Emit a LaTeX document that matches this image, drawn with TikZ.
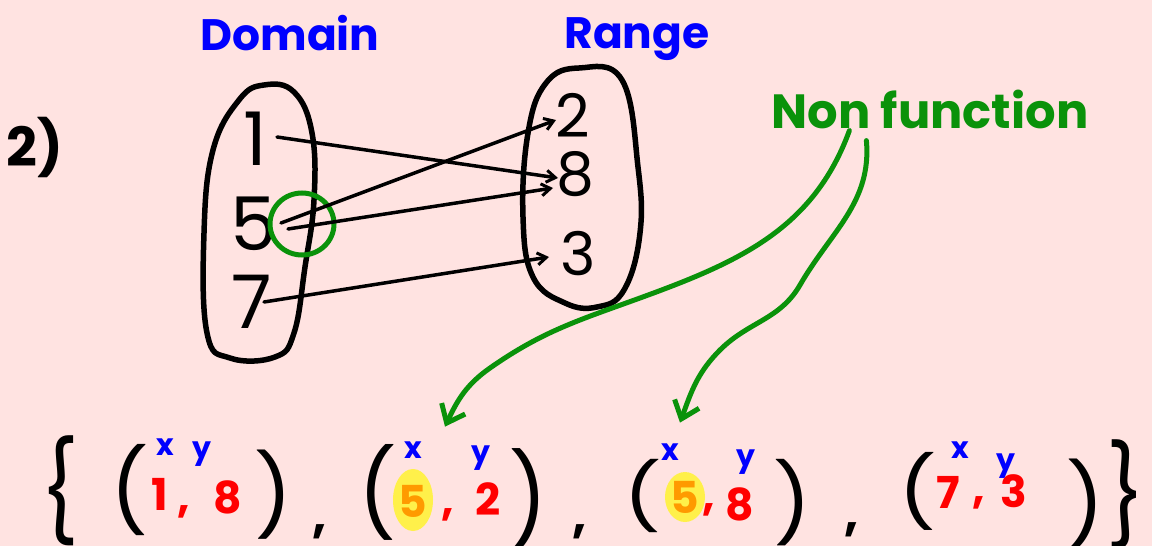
\documentclass[tikz,border=0pt]{standalone}
\usepackage{fontspec}
\setmainfont{Poppins}
\usetikzlibrary{arrows.meta,calc}
\definecolor{bg}{HTML}{FFE3E1}
\definecolor{ink}{HTML}{000000}
\definecolor{pen}{HTML}{0000FF}
\definecolor{grn}{HTML}{0A920A}
\definecolor{rd}{HTML}{FF0000}
\definecolor{org}{HTML}{FF9A00}
\definecolor{hl}{HTML}{FFF04A}
\newcommand{\tall}[2]{\scalebox{1}[#1]{#2}}
\tikzset{
  txt/.style={inner sep=0pt, anchor=base},
  bignum/.style={txt, font=\fontsize{74}{80}\selectfont},
  rangenum/.style={txt, font=\fontsize{60}{66}\selectfont},
  title/.style={txt, text=pen, font=\fontsize{44}{50}\selectfont\bfseries},
  oval/.style={line width=5.5pt, ink, line join=round},
  arr/.style={line width=3.5pt, ink, line cap=round, -{Straight Barb[length=9pt,width=12pt,line width=3pt]}},
  garr/.style={line width=5pt, grn, line cap=round, -{Straight Barb[length=16pt,width=26pt,line width=5pt]}},
  paren/.style={inner sep=0pt, anchor=center, font=\fontsize{84}{90}\selectfont},
  comma/.style={txt, font=\fontsize{50}{56}\selectfont\bfseries},
  rnum/.style={txt, text=rd, font=\fontsize{44}{50}\selectfont\bfseries},
  onum/.style={txt, text=org, font=\fontsize{44}{50}\selectfont\bfseries},
  xy/.style={txt, text=pen, font=\fontsize{30}{34}\selectfont\bfseries},
}
\begin{document}
\begin{tikzpicture}[x=1pt,y=-1pt]
\fill[bg] (0,0) rectangle (1152,546);
\useasboundingbox (0,0) rectangle (1152,546);

% labels
\node[txt, font=\fontsize{54}{60}\selectfont\bfseries] (lbl) at (35,166) {2)};
\node[title] (dom) at (290,50) {Domain};
\node[title] (rng) at (637,48) {Range};
\node[txt, text=grn, font=\fontsize{48}{54}\selectfont\bfseries] (nonf) at (930,128) {Non function};

% ovals
\draw[oval] plot[smooth cycle, tension=0.7] coordinates {(264,85) (294,92) (312,133) (314,200) (305,267) (294,333) (275,357) (230,358) (207,333) (204,233) (213,150) (239,100)};
\draw[oval] plot[smooth cycle, tension=0.7] coordinates {(579,68) (622,80) (638,167) (640,233) (624,290) (597,307) (565,303) (533,277) (523,217) (528,133) (546,83)};

% numbers
\node[bignum] (n1) at (255,165) {1};
\node[bignum] (n5) at (254,250) {5};
\node[bignum] (n7) at (252,328) {7};
\node[rangenum] (r2) at (573,137) {2};
\node[rangenum] (r8) at (575,195) {8};
\node[rangenum] (r3) at (578,275) {3};

% green circle
\draw[grn, line width=5pt] ($(n5.base)+(48,-26)$) ellipse [x radius=32pt, y radius=31pt];

% mapping arrows
\draw[arr] ($(n1.base)+(22,-28)$) -- ($(r8.base)+(-17,-17)$);
\draw[arr] ($(n5.base)+(27,-27)$) -- ($(r2.base)+(-17,-17)$);
\draw[arr] ($(n5.base)+(34,-21)$) -- ($(r8.base)+(-22,-7)$);
\draw[arr] ($(n7.base)+(12,-26)$) -- ($(r3.base)+(-29,-18)$);

% bottom set
\node[paren] (lb) at (60,491) {\tall{1.17}{\{}};
\node[paren] (p1l) at (130,490) {\tall{0.97}{(}};
\node[paren] (p1r) at (274,495) {\tall{0.95}{)}};
\node[comma] (c1) at (320,532) {,};
\node[paren] (p2l) at (378,492) {\tall{1.02}{(}};
\node[paren] (p2r) at (529,499) {\tall{1.07}{)}};
\node[comma] (c2) at (580,532) {,};
\node[paren] (p3l) at (643,496) {\tall{0.78}{(}};
\node[paren] (p3r) at (793,503) {\tall{0.92}{)}};
\node[comma] (c3) at (852,530) {,};
\node[paren] (p4l) at (918,491) {\tall{0.83}{(}};
\node[paren] (p4r) at (1086,504) {\tall{0.95}{)}};
\node[paren] (rb) at (1126,495) {\tall{1.17}{\}}};

% highlights
\fill[hl] (413,500) ellipse [x radius=20pt, y radius=31pt];
\fill[hl] (685,497) ellipse [x radius=20pt, y radius=25pt];

% tuple contents
\node[rnum] (t1x) at (160,510) {1};
\node[rnum] (t1c) at (184,512) {,};
\node[rnum] (t1y) at (228,513) {8};
\node[onum] (t2x) at (413,517) {5};
\node[rnum] (t2c) at (448,515) {,};
\node[rnum] (t2y) at (488,515) {2};
\node[onum] (t3x) at (685,513) {5};
\node[rnum] (t3c) at (709,510) {,};
\node[rnum] (t3y) at (740,520) {8};
\node[rnum] (t4x) at (948,508) {7};
\node[rnum] (t4c) at (979,503) {,};
\node[rnum] (t4y) at (1014,507) {3};

\node[xy] at (165,455) {x};
\node[xy] at (202,458) {y};
\node[xy] at (413,458) {x};
\node[xy] at (481,462) {y};
\node[xy] at (670,460) {x};
\node[xy] at (746,466) {y};
\node[xy] at (960,458) {x};
\node[xy] at (1006,470) {y};

% green arrows
\draw[garr] ($(nonf.south west)+(78,2)$) to[out=-110,in=20] (640,298) to[out=200,in=35] (490,368) to[out=215,in=65] ($(t2x.north)+(32,-58)$);
\draw[garr] ($(nonf.south west)+(95,12)$) to[out=-85,in=60] (800,285) to[out=240,in=45] (720,350) to[out=225,in=70] ($(t3x.north)+(-5,-58)$);
\end{tikzpicture}
\end{document}
